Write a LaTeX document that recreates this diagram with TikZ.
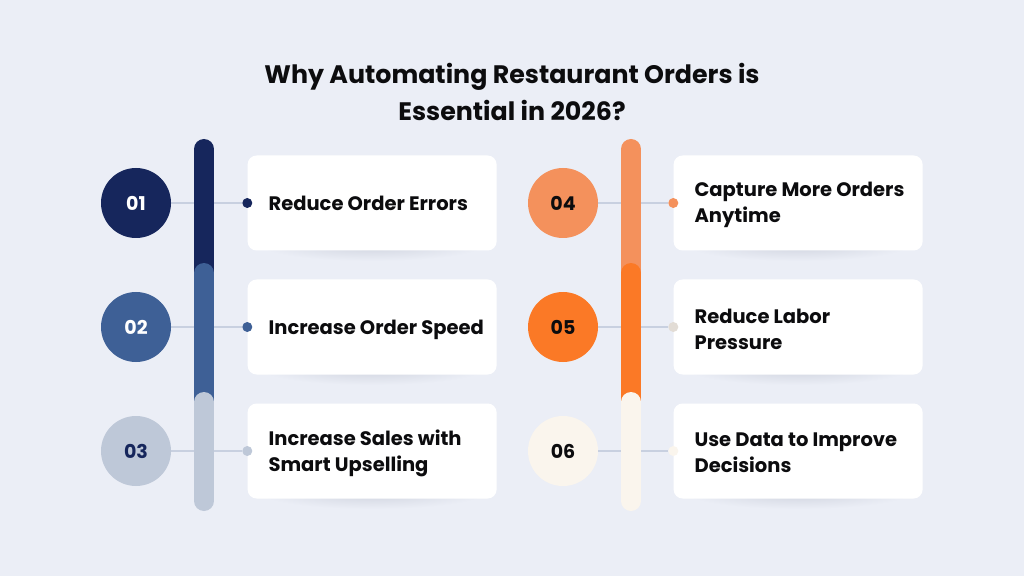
\documentclass[tikz,border=0pt]{standalone}
\usepackage{fontspec}
\setmainfont{Poppins}
\usetikzlibrary{backgrounds}
\usetikzlibrary{positioning}
\definecolor{bgc}{RGB}{235,238,246}
\definecolor{ink}{RGB}{12,12,14}
\definecolor{navy}{RGB}{22,38,92}
\definecolor{midblue}{RGB}{62,96,150}
\definecolor{paleblue}{RGB}{190,200,216}
\definecolor{lightora}{RGB}{244,145,92}
\definecolor{ora}{RGB}{251,121,38}
\definecolor{cream}{RGB}{250,245,237}
\definecolor{beige}{RGB}{226,220,213}
\definecolor{linec}{RGB}{200,208,224}
\definecolor{shadc}{RGB}{208,212,223}

\begin{document}
\begin{tikzpicture}[
            x = 1pt, y = 1pt,
            node distance = 124pt, % distance between steps
            semithick
        ]

        \tikzstyle{numc}=[
            circle,
            minimum size = 70pt,
            inner sep = 0pt,
            font = \fontsize{19}{22}\selectfont\bfseries
        ]
        \tikzstyle{card}=[fill = white, rounded corners = 9pt, minimum width = 249pt, minimum height = 95pt, inner sep = 0pt]
        \tikzstyle{dot}=[circle, minimum size = 10pt, inner sep = 0pt]
        \tikzstyle{txt}=[anchor = west, align = left, inner sep = 0pt, text = ink, font = \fontsize{19.5}{26}\selectfont\bfseries]
        \tikzstyle{link}=[draw = linec, line width = 1.3pt]
        \tikzstyle{bar}=[line width = 20pt, line cap = round]

        \useasboundingbox (0,0) rectangle (1024,576);

        % title
        \node (T) at (512,484) [align = center, text = ink, font = \fontsize{25.3}{37}\selectfont\bfseries] {Why Automating Restaurant Orders is\\Essential in 2026?};

        % left column
        \node[numc, fill = navy, text = white] (C1) at (136,373) {01};
        \node[numc, fill = midblue, text = white] (C2) [below of = C1] {02};
        \node[numc, fill = paleblue, text = navy] (C3) [below of = C2] {03};

        \node[card] (K1) [right = 76pt of C1] {};
        \node[card] (K2) [right = 76pt of C2] {};
        \node[card] (K3) [right = 76pt of C3] {};

        \node[dot, fill = navy] (D1) at (K1.west) {};
        \node[dot, fill = midblue] (D2) at (K2.west) {};
        \node[dot, fill = paleblue] (D3) at (K3.west) {};

        \node[txt] (L1) at ([xshift = 21pt]K1.west) {Reduce Order Errors};
        \node[txt] (L2) at ([xshift = 21pt, yshift = -3pt]K2.west) {Increase Order Speed};
        \node[txt] (L3) at ([xshift = 21pt, yshift = -2pt]K3.west) {Increase Sales with\\Smart Upselling};

        % right column
        \node[numc, fill = lightora, text = ink] (C4) at (563,373) {04};
        \node[numc, fill = ora, text = ink] (C5) [below of = C4] {05};
        \node[numc, fill = cream, text = ink] (C6) [below of = C5] {06};

        \node[card] (K4) [right = 75pt of C4] {};
        \node[card] (K5) [right = 75pt of C5] {};
        \node[card] (K6) [right = 75pt of C6] {};

        \node[dot, fill = lightora] (D4) at (K4.west) {};
        \node[dot, fill = beige] (D5) at (K5.west) {};
        \node[dot, fill = cream] (D6) at (K6.west) {};

        \node[txt] (L4) at ([xshift = 21pt, yshift = -2pt]K4.west) {Capture More Orders\\Anytime};
        \node[txt] (L5) at ([xshift = 21pt, yshift = -2pt]K5.west) {Reduce Labor\\Pressure};
        \node[txt] (L6) at ([xshift = 21pt, yshift = -2pt]K6.west) {Use Data to Improve\\Decisions};

        \begin{scope}[on background layer]
            \fill[bgc] (0,0) rectangle (1024,576);
            \foreach \i in {1,...,6}
                \path[link] (C\i) -- (D\i);

            % timeline bars
            \draw[bar, navy] ([xshift = 68pt, yshift = 54pt]C1.center) -- ([xshift = 68pt, yshift = -87pt]C1.center);
            \draw[bar, midblue] ([xshift = 68pt, yshift = 54pt]C2.center) -- ([xshift = 68pt, yshift = -83pt]C2.center);
            \draw[bar, paleblue] ([xshift = 68pt, yshift = 49pt]C3.center) -- ([xshift = 68pt, yshift = -50pt]C3.center);

            \draw[bar, lightora] ([xshift = 68pt, yshift = 54pt]C4.center) -- ([xshift = 68pt, yshift = -87pt]C4.center);
            \draw[bar, ora] ([xshift = 68pt, yshift = 54pt]C5.center) -- ([xshift = 68pt, yshift = -83pt]C5.center);
            \draw[bar, cream] ([xshift = 68pt, yshift = 49pt]C6.center) -- ([xshift = 68pt, yshift = -50pt]C6.center);

            % soft shadows under the cards
            \foreach \i in {1,...,6}
                \shade[inner color = shadc, outer color = bgc] ([yshift = -42pt]K\i.center) ellipse (112pt and 16pt);
        \end{scope}

\end{tikzpicture}
\end{document}
